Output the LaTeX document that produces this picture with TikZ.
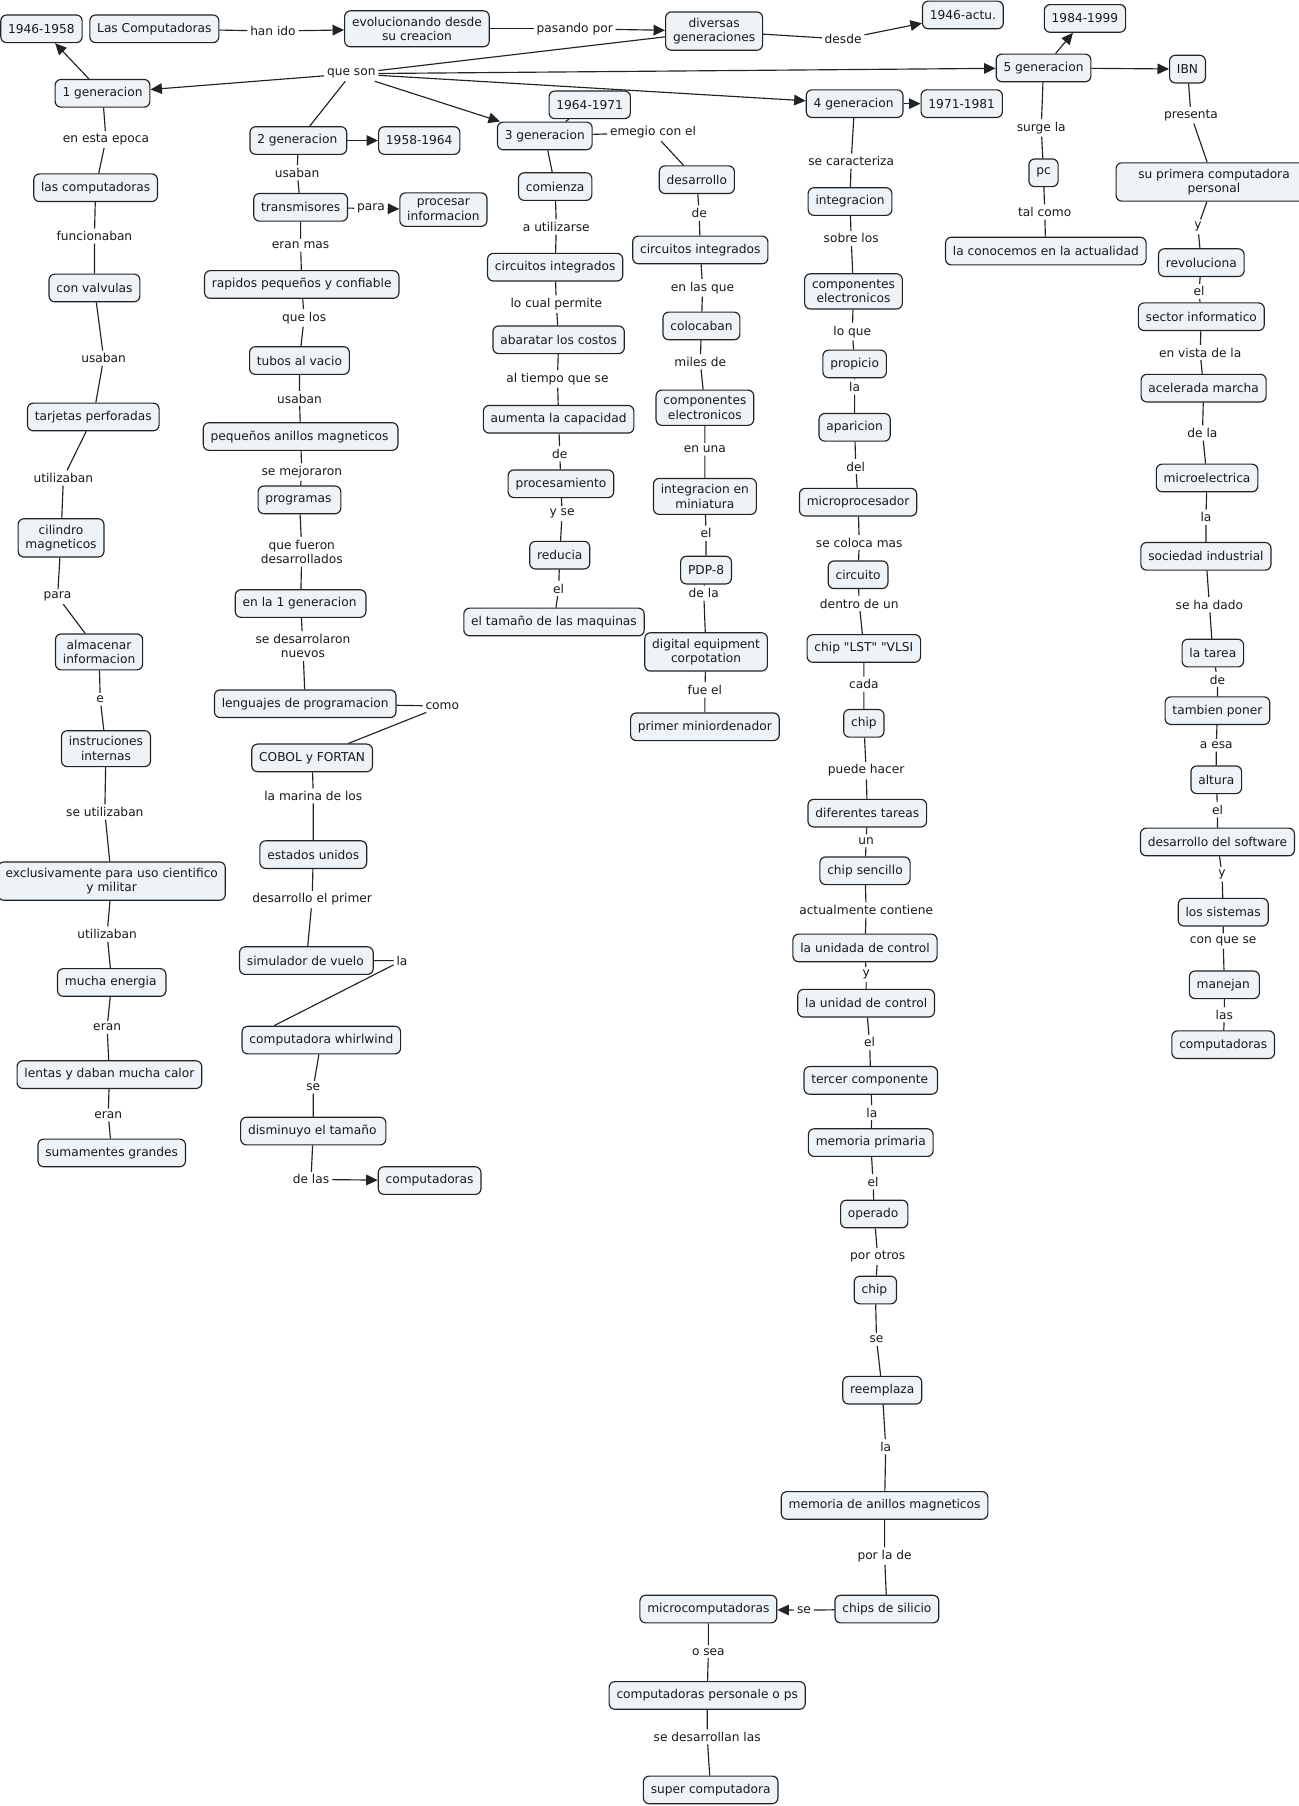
\documentclass[tikz,border=0pt]{standalone}
\usepackage{fontspec}
\setmainfont{DejaVu Sans}[Ligatures=TeXOff]
\usetikzlibrary{arrows.meta}
\definecolor{cmapfill}{RGB}{237,243,246}
\definecolor{cmapline}{RGB}{35,35,35}
\tikzset{every picture/.style={line width=0.5pt}}
\tikzset{
  concept/.style={draw=cmapline, fill=cmapfill, rounded corners=2.5pt, align=center,
    inner xsep=3.2pt, inner ysep=2.6pt, minimum height=12pt,
    font=\fontsize{5.3}{6.3}\selectfont},
  linkword/.style={fill=white, inner sep=1pt, align=center,
    font=\fontsize{5.3}{6.3}\selectfont},
  conn/.style={draw=cmapline, line width=0.5pt},
  arr/.style={conn, -{Triangle[length=5pt,width=4.6pt]}}
}
\begin{document}
\begin{tikzpicture}[
            x=0.5pt,
            y=0.5pt,
            yscale=-1,
            xscale=1,
            every node/.style={text=black!90}
        ]
            \path[use as bounding box, fill=white] (0,0) rectangle (1127,1568);

            \node[concept] (y4658) at (36,25) {1946-1958};
            \node[concept] (lascomp) at (134,25) {Las Computadoras};
            \node[linkword] (hanido) at (237,27) {han ido};
            \node[concept] (evol) at (362,25) {evolucionando desde\\su creacion};
            \node[linkword] (pasando) at (499,25) {pasando por};
            \node[concept] (divers) at (620,27) {diversas\\generaciones};
            \node[linkword] (desde) at (732,34) {desde};
            \node[concept] (y46act) at (836,13) {1946-actu.};
            \node[linkword] (queson) at (305,64) {que son};
            \node[concept] (gen1) at (89,81) {1 generacion};
            \node[concept] (gen2) at (259,122) {2 generacion\,};
            \node[concept] (y5864) at (364,122) {1958-1964};
            \node[concept] (gen3) at (473,118) {3 generacion};
            \node[concept] (y6471) at (512,91) {1964-1971};
            \node[concept] (gen4) at (742,90) {4 generacion\,};
            \node[concept] (y7181) at (835,90) {1971-1981};
            \node[concept] (gen5) at (906,59) {5 generacion};
            \node[concept] (y8499) at (942,16) {1984-1999};
            \node[concept] (ibn) at (1031,60) {IBN};

            \node[linkword] (l1a) at (92,121) {en esta epoca};
            \node[concept] (c1a) at (83,163) {las computadoras};
            \node[linkword] (l1b) at (82,205) {funcionaban};
            \node[concept] (c1b) at (82,250) {con valvulas};
            \node[linkword] (l1c) at (90,311) {usaban};
            \node[concept] (c1c) at (81,362) {tarjetas perforadas};
            \node[linkword] (l1d) at (55,415) {utilizaban};
            \node[concept] (c1d) at (53,467) {cilindro\\magneticos};
            \node[linkword] (l1e) at (50,518) {para};
            \node[concept] (c1e) at (86,566) {almacenar\\informacion};
            \node[linkword] (l1f) at (87,607) {e};
            \node[concept] (c1f) at (92,650) {instruciones\\internas};
            \node[linkword] (l1g) at (91,705) {se utilizaban};
            \node[concept] (c1g) at (97,765) {exclusivamente para uso cientifico\\y militar};
            \node[linkword] (l1h) at (93,811) {utilizaban};
            \node[concept] (c1h) at (97,853) {mucha energia\,};
            \node[linkword] (l1i) at (93,892) {eran};
            \node[concept] (c1i) at (95,933) {lentas y daban mucha calor};
            \node[linkword] (l1j) at (94,968) {eran};
            \node[concept] (c1j) at (97,1001) {sumamentes grandes};

            \node[linkword] (l2a) at (258,150) {usaban};
            \node[concept] (c2a) at (261,180) {transmisores};
            \node[linkword] (l2p) at (322,181) {para};
            \node[concept] (c2p) at (385,182) {procesar\\informacion};
            \node[linkword] (l2b) at (261,213) {eran mas};
            \node[concept] (c2b) at (262,247) {rapidos pequeños y confiable};
            \node[linkword] (l2c) at (264,276) {que los};
            \node[concept] (c2c) at (260,313) {tubos al vacio};
            \node[linkword] (l2d) at (260,346) {usaban};
            \node[concept] (c2d) at (261,379) {pequeños anillos magneticos\,};
            \node[linkword] (l2e) at (262,410) {se mejoraron};
            \node[concept] (c2e) at (260,434) {programas\,};
            \node[linkword] (l2f) at (262,479) {que fueron\\desarrollados};
            \node[concept] (c2f) at (261,524) {en la 1 generacion\,};
            \node[linkword] (l2g) at (263,561) {se desarrolaron\\nuevos};
            \node[concept] (c2g) at (265,611) {lenguajes de programacion};
            \node[linkword] (l2h) at (384,613) {como};
            \node[concept] (c2h) at (271,658) {COBOL y FORTAN};
            \node[linkword] (l2i) at (272,691) {la marina de los};
            \node[concept] (c2i) at (272,742) {estados unidos};
            \node[linkword] (l2j) at (271,781) {desarrollo el primer};
            \node[concept] (c2j) at (266,834) {simulador de vuelo\,};
            \node[linkword] (l2k) at (349,834) {la};
            \node[concept] (c2k) at (279,903) {computadora whirlwind};
            \node[linkword] (l2l) at (272,944) {se};
            \node[concept] (c2l) at (272,982) {disminuyo el tamaño\,};
            \node[linkword] (l2m) at (270,1024) {de las};
            \node[concept] (c2m) at (373,1025) {computadoras};

            \node[concept] (c3a) at (482,162) {comienza};
            \node[linkword] (l3b) at (483,197) {a utilizarse};
            \node[concept] (c3b) at (482,232) {circuitos integrados};
            \node[linkword] (l3c) at (483,264) {lo cual permite};
            \node[concept] (c3c) at (485,295) {abaratar los costos};
            \node[linkword] (l3d) at (484,329) {al tiempo que se};
            \node[concept] (c3d) at (485,364) {aumenta la capacidad};
            \node[linkword] (l3e) at (486,394) {de};
            \node[concept] (c3e) at (487,420) {procesamiento};
            \node[linkword] (l3f) at (488,446) {y se};
            \node[concept] (c3f) at (486,482) {reducia};
            \node[linkword] (l3g) at (485,511) {el};
            \node[concept] (c3g) at (481,540) {el tamaño de las maquinas};

            \node[linkword] (l3m) at (567,115) {emegio con el};
            \node[concept] (c3m) at (605,156) {desarrollo};
            \node[linkword] (l3n) at (607,185) {de};
            \node[concept] (c3n) at (608,217) {circuitos integrados};
            \node[linkword] (l3o) at (610,250) {en las que};
            \node[concept] (c3o) at (609,283) {colocaban};
            \node[linkword] (l3p) at (608,314) {miles de};
            \node[concept] (c3p) at (612,354) {componentes\\electronicos};
            \node[linkword] (l3q) at (612,390) {en una};
            \node[concept] (c3q) at (612,431) {integracion en\\miniatura};
            \node[linkword] (l3r) at (613,463) {el};
            \node[concept] (c3r) at (613,495) {PDP-8};
            \node[linkword] (l3s) at (611,515) {de la};
            \node[concept] (c3s) at (613,566) {digital equipment\\corpotation};
            \node[linkword] (l3t) at (612,599) {fue el};
            \node[concept] (c3t) at (612,631) {primer miniordenador};

            \node[linkword] (l4a) at (739,140) {se caracteriza};
            \node[concept] (c4a) at (738,175) {integracion};
            \node[linkword] (l4b) at (739,207) {sobre los};
            \node[concept] (c4b) at (741,253) {componentes\\electronicos};
            \node[linkword] (l4c) at (740,288) {lo que};
            \node[concept] (c4c) at (742,316) {propicio};
            \node[linkword] (l4d) at (742,336) {la};
            \node[concept] (c4d) at (742,371) {aparicion};
            \node[linkword] (l4e) at (743,405) {del};
            \node[concept] (c4e) at (745,436) {microprocesador};
            \node[linkword] (l4f) at (746,471) {se coloca mas};
            \node[concept] (c4f) at (745,499) {circuito};
            \node[linkword] (l4g) at (746,524) {dentro de un};
            \node[concept] (c4g) at (750,563) {chip "LST" "VLSI};
            \node[linkword] (l4h) at (750,594) {cada};
            \node[concept] (c4h) at (750,628) {chip};
            \node[linkword] (l4i) at (752,669) {puede hacer};
            \node[concept] (c4i) at (753,706) {diferentes tareas};
            \node[linkword] (l4j) at (752,730) {un};
            \node[concept] (c4j) at (751,756) {chip sencillo};
            \node[linkword] (l4k) at (752,790) {actualmente contiene};
            \node[concept] (c4k) at (751,823) {la unidada de control};
            \node[linkword] (l4l) at (752,846) {y};
            \node[concept] (c4l) at (752,871) {la unidad de control};
            \node[linkword] (l4m) at (755,905) {el};
            \node[concept] (c4m) at (756,938) {tercer componente\,};
            \node[linkword] (l4n) at (757,966) {la};
            \node[concept] (c4n) at (756,992) {memoria primaria};
            \node[linkword] (l4o) at (758,1026) {el};
            \node[concept] (c4o) at (759,1054) {operado\,};
            \node[linkword] (l4p) at (762,1091) {por otros};
            \node[concept] (c4p) at (760,1120) {chip\,};
            \node[linkword] (l4q) at (761,1163) {se};
            \node[concept] (c4q) at (766,1207) {reemplaza};
            \node[linkword] (l4r) at (769,1256) {la};
            \node[concept] (c4r) at (768,1307) {memoria de anillos magneticos};
            \node[linkword] (l4s) at (768,1351) {por la de};
            \node[concept] (c4s) at (770,1397) {chips de silicio};
            \node[linkword] (l4t) at (698,1398) {se};
            \node[concept] (c4t) at (615,1397) {microcomputadoras};
            \node[linkword] (l4u) at (615,1434) {o sea};
            \node[concept] (c4u) at (614,1472) {computadoras personale o ps};
            \node[linkword] (l4v) at (614,1508) {se desarrollan las};
            \node[concept] (c4v) at (617,1554) {super computadora};

            \node[linkword] (l5a) at (904,111) {surge la};
            \node[concept] (c5a) at (906,150) {pc};
            \node[linkword] (l5b) at (907,184) {tal como};
            \node[concept] (c5b) at (908,218) {la conocemos en la actualidad};

            \node[linkword] (l6a) at (1034,100) {presenta};
            \node[concept, minimum width=85pt] (c6a) at (1054,158) {su primera computadora\\personal};
            \node[linkword] (l6b) at (1040,197) {y};
            \node[concept] (c6b) at (1043,228) {revoluciona};
            \node[linkword] (l6c) at (1041,253) {el};
            \node[concept] (c6c) at (1043,275) {sector informatico};
            \node[linkword] (l6d) at (1042,306) {en vista de la};
            \node[concept] (c6d) at (1045,337) {acelerada marcha};
            \node[linkword] (l6e) at (1044,376) {de la};
            \node[concept] (c6e) at (1048,415) {microelectrica};
            \node[linkword] (l6f) at (1047,449) {la};
            \node[concept] (c6f) at (1047,483) {sociedad industrial};
            \node[linkword] (l6g) at (1050,525) {se ha dado};
            \node[concept] (c6g) at (1053,567) {la tarea};
            \node[linkword] (l6h) at (1057,590) {de};
            \node[concept] (c6h) at (1057,617) {tambien poner};
            \node[linkword] (l6i) at (1056,647) {a esa};
            \node[concept] (c6i) at (1056,677) {altura};
            \node[linkword] (l6j) at (1057,703) {el};
            \node[concept] (c6j) at (1057,731) {desarrollo del software};
            \node[linkword] (l6k) at (1061,759) {y};
            \node[concept] (c6k) at (1062,792) {los sistemas};
            \node[linkword] (l6l) at (1062,817) {con que se};
            \node[concept] (c6l) at (1063,855) {manejan\,};
            \node[linkword] (l6m) at (1063,881) {las};
            \node[concept] (c6m) at (1062,907) {computadoras};

            \draw[conn] (lascomp) -- (hanido); \draw[arr] (hanido) -- (evol);
            \draw[conn] (evol) -- (pasando); \draw[arr] (pasando) -- (divers);
            \draw[conn] (divers) -- (desde); \draw[arr] (desde) -- (y46act);
            \draw[conn] (divers) -- (queson);
            \draw[arr] (queson) -- (gen1);
            \draw[conn] (queson) -- (gen2);
            \draw[arr] (queson) -- (gen3);
            \draw[arr] (queson) -- (gen4);
            \draw[arr] (queson) -- (gen5);
            \draw[arr] (gen1) -- (y4658);
            \draw[arr] (gen2) -- (y5864);
            \draw[conn] (gen3) -- (y6471);
            \draw[arr] (gen4) -- (y7181);
            \draw[arr] (gen5) -- (y8499);
            \draw[arr] (gen5) -- (ibn);

            \draw[conn] (gen1) -- (l1a) -- (c1a) -- (l1b) -- (c1b) -- (l1c) -- (c1c) -- (l1d) -- (c1d) -- (l1e) -- (c1e);
            \draw[conn] (c1e) -- (l1f) -- (c1f) -- (l1g) -- (c1g) -- (l1h) -- (c1h) -- (l1i) -- (c1i) -- (l1j) -- (c1j);

            \draw[conn] (gen2) -- (l2a) -- (c2a) -- (l2b) -- (c2b) -- (l2c) -- (c2c) -- (l2d) -- (c2d) -- (l2e) -- (c2e);
            \draw[conn] (c2e) -- (l2f) -- (c2f) -- (l2g) -- (c2g) -- (l2h) -- (c2h) -- (l2i) -- (c2i) -- (l2j) -- (c2j);
            \draw[conn] (c2j) -- (l2k) -- ([xshift=-20.5pt]c2k.north);
            \draw[conn] (c2k) -- (l2l) -- (c2l) -- (l2m);
            \draw[arr] (l2m) -- (c2m);
            \draw[conn] (c2a) -- (l2p); \draw[arr] (l2p) -- (c2p);

            \draw[conn] (gen3) -- (c3a) -- (l3b) -- (c3b) -- (l3c) -- (c3c) -- (l3d) -- (c3d) -- (l3e) -- (c3e) -- (l3f) -- (c3f) -- (l3g) -- (c3g);
            \draw[conn] (gen3) -- (l3m) -- (c3m) -- (l3n) -- (c3n) -- (l3o) -- (c3o) -- (l3p) -- (c3p) -- (l3q) -- (c3q);
            \draw[conn] (c3q) -- (l3r) -- (c3r) -- (l3s) -- (c3s) -- (l3t) -- (c3t);

            \draw[conn] (gen4) -- (l4a) -- (c4a) -- (l4b) -- (c4b) -- (l4c) -- (c4c) -- (l4d) -- (c4d) -- (l4e) -- (c4e);
            \draw[conn] (c4e) -- (l4f) -- (c4f) -- (l4g) -- (c4g) -- (l4h) -- (c4h) -- (l4i) -- (c4i) -- (l4j) -- (c4j);
            \draw[conn] (c4j) -- (l4k) -- (c4k) -- (l4l) -- (c4l) -- (l4m) -- (c4m) -- (l4n) -- (c4n) -- (l4o) -- (c4o);
            \draw[conn] (c4o) -- (l4p) -- (c4p) -- (l4q) -- (c4q) -- (l4r) -- (c4r) -- (l4s) -- (c4s) -- (l4t);
            \draw[arr] (l4t) -- (c4t);
            \draw[conn] (c4t) -- (l4u) -- (c4u) -- (l4v) -- (c4v);

            \draw[conn] (gen5) -- (l5a) -- (c5a) -- (l5b) -- (c5b);

            \draw[conn] (ibn) -- (l6a) -- (c6a) -- (l6b) -- (c6b) -- (l6c) -- (c6c) -- (l6d) -- (c6d) -- (l6e) -- (c6e);
            \draw[conn] (c6e) -- (l6f) -- (c6f) -- (l6g) -- (c6g) -- (l6h) -- (c6h) -- (l6i) -- (c6i) -- (l6j) -- (c6j);
            \draw[conn] (c6j) -- (l6k) -- (c6k) -- (l6l) -- (c6l) -- (l6m) -- (c6m);
        \end{tikzpicture}
\end{document}
